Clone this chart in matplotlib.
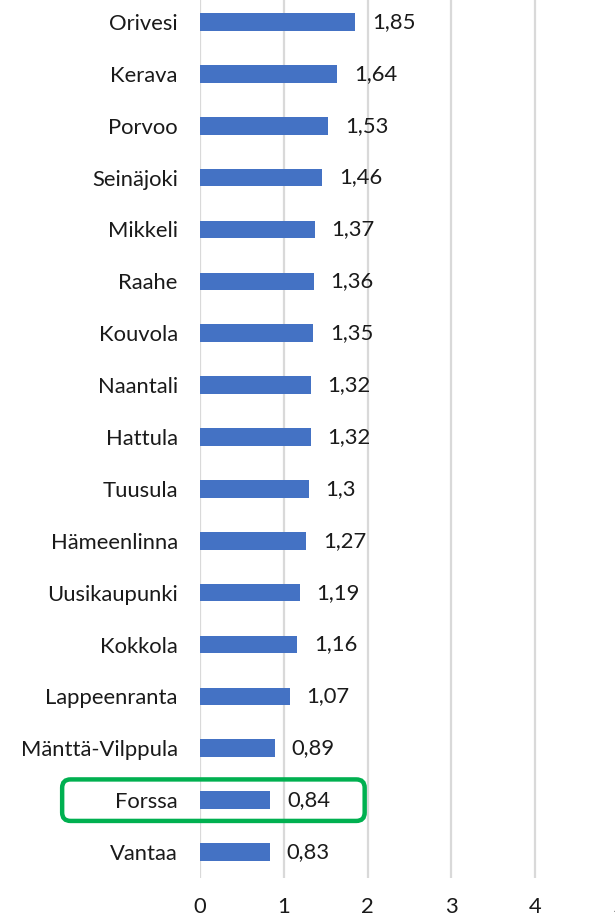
import matplotlib
matplotlib.use("Agg")
import matplotlib.pyplot as plt
from matplotlib.patches import FancyBboxPatch

plt.rcParams['font.family'] = ['Lato', 'DejaVu Sans']

towns = ["Orivesi", "Kerava", "Porvoo", "Seinäjoki", "Mikkeli", "Raahe",
         "Kouvola", "Naantali", "Hattula", "Tuusula", "Hämeenlinna",
         "Uusikaupunki", "Kokkola", "Lappeenranta", "Mänttä-Vilppula",
         "Forssa", "Vantaa"]
values = [1.85, 1.64, 1.53, 1.46, 1.37, 1.36, 1.35, 1.32, 1.32, 1.3,
          1.27, 1.19, 1.16, 1.07, 0.89, 0.84, 0.83]
value_labels = ["1,85", "1,64", "1,53", "1,46", "1,37", "1,36", "1,35",
                "1,32", "1,32", "1,3", "1,27", "1,19", "1,16", "1,07",
                "0,89", "0,84", "0,83"]
highlight = "Forssa"

W, H = 615, 918
fig = plt.figure(figsize=(W / 100, H / 100), dpi=100)
# axes reaches past the right edge, like the cropped original
ax = fig.add_axes([200 / W, 40 / H, 419 / W, 882 / H])

ypos = list(range(len(towns)))
ax.barh(ypos, values, height=0.34, color="#4472C4", zorder=3)
ax.set_ylim(len(towns) - 0.5, -0.5)
ax.set_xlim(0, 5)
ax.set_yticks(ypos)
ax.set_yticklabels(towns, fontsize=15.8, color="#1a1a1a")
ax.set_xticks([0, 1, 2, 3, 4, 5])
ax.tick_params(axis="y", length=0, pad=16)
ax.tick_params(axis="x", length=0, pad=14, labelsize=15.8, labelcolor="#1a1a1a")
ax.grid(axis="x", color="#D9D9D9", linewidth=1.6, zorder=0)
for s in ax.spines.values():
    s.set_visible(False)

for y, v, lab in zip(ypos, values, value_labels):
    ax.annotate(lab, (v, y), xytext=(12, 0), textcoords="offset points",
                va="center", ha="left", fontsize=15.8, color="#1a1a1a")

# green frame round the highlighted row
i = towns.index(highlight)
px_x = 419 / 5      # pixels per x unit
px_y = 882 / 17     # pixels per row
box = FancyBboxPatch((-1.645, i - 0.4), 3.61, 0.8,
                     boxstyle="round,pad=0,rounding_size=0.1",
                     mutation_aspect=px_x / px_y,
                     transform=ax.transData, clip_on=False,
                     fill=False, edgecolor="#00B050", linewidth=3.2, zorder=5)
ax.add_patch(box)

fig.savefig("out.png", dpi=100)
